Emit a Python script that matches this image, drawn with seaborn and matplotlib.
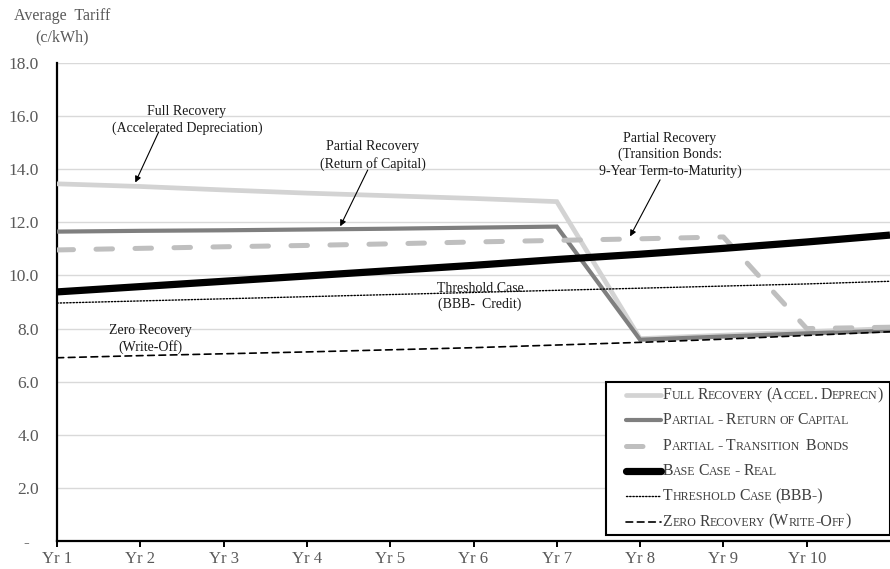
import numpy as np
import pandas as pd
import matplotlib
matplotlib.use("Agg")
import matplotlib.pyplot as plt
import seaborn as sns
from matplotlib.lines import Line2D
from matplotlib.offsetbox import (TextArea, HPacker, VPacker, DrawingArea,
                                  AnchoredOffsetbox)

# ---- data -------------------------------------------------------------
years = list(range(1, 12))
year_labels = ["Yr 1", "Yr 2", "Yr 3", "Yr 4", "Yr 5", "Yr 6", "Yr 7",
               "Yr 8", "Yr 9", "Yr 10"]

full_recovery = [13.45, 13.35, 13.22, 13.10, 13.00, 12.90, 12.78,
                 7.62, 7.75, 7.88, 8.00]
partial_return = [11.65, 11.68, 11.70, 11.73, 11.76, 11.80, 11.84,
                  7.58, 7.70, 7.82, 7.92]
partial_bonds = [10.96, 11.02, 11.08, 11.13, 11.19, 11.26, 11.32,
                 11.38, 11.45, 8.00, 8.05]
base_case = [9.38, 9.58, 9.78, 9.98, 10.18, 10.38, 10.60,
             10.80, 11.02, 11.26, 11.52]
threshold = [8.96, 9.04, 9.12, 9.20, 9.28, 9.36, 9.44,
             9.52, 9.60, 9.68, 9.78]
zero_recovery = [6.90, 6.98, 7.05, 7.12, 7.20, 7.28, 7.38,
                 7.48, 7.60, 7.74, 7.88]

series_names = ["Full Recovery (Accel. Deprecn)",
                "Partial - Return of Capital",
                "Partial - Transition  Bonds",
                "Base Case - Real",
                "Threshold Case (BBB-)",
                "Zero Recovery (Write-Off)"]
series_values = [full_recovery, partial_return, partial_bonds,
                 base_case, threshold, zero_recovery]

y_ticks = [0, 2, 4, 6, 8, 10, 12, 14, 16, 18]
y_tick_labels = ["-  ", "2.0", "4.0", "6.0", "8.0", "10.0", "12.0",
                 "14.0", "16.0", "18.0"]

# ---- styles -----------------------------------------------------------
styles = [
    dict(color="#d3d3d3", lw=3.4, ls="-"),
    dict(color="#7f7f7f", lw=3.0, ls="-"),
    dict(color="#bfbfbf", lw=3.6, ls=(0, (3.3, 4.5))),
    dict(color="#000000", lw=5.2, ls="-"),
    dict(color="#000000", lw=1.0, ls=(0, (1, 1.3))),
    dict(color="#000000", lw=1.2, ls=(0, (4, 2.8))),
]

sns.set_theme(style="white")
plt.rcParams["font.family"] = ["Liberation Serif", "DejaVu Serif"]
SERIF = ["Liberation Serif", "DejaVu Serif"]

fig = plt.figure(figsize=(8.9, 5.69), dpi=100)
ax = fig.add_axes([57 / 890, 28 / 569, 833 / 890, 478 / 569])

df = pd.DataFrame({"year": years * len(series_names),
                   "value": sum(series_values, []),
                   "series": np.repeat(series_names, len(years))})

for name, st in zip(series_names, styles):
    sub = df[df["series"] == name]
    sns.lineplot(data=sub, x="year", y="value", ax=ax, color=st["color"],
                 linewidth=st["lw"], linestyle=st["ls"],
                 dash_capstyle="round", solid_capstyle="butt",
                 solid_joinstyle="miter", legend=False, zorder=3)

# ---- axes -------------------------------------------------------------
ax.set_xlim(1, 11)
ax.set_ylim(0, 18)
ax.set_xticks(range(1, 11))
ax.set_xticklabels(year_labels, fontsize=12, color="#595959")
ax.set_yticks(y_ticks)
ax.set_yticklabels(y_tick_labels, fontsize=12.5, color="#595959")
ax.set_xlabel("")
ax.set_ylabel("")
ax.grid(axis="y", color="#d9d9d9", lw=1.0, zorder=0)
ax.grid(axis="x", visible=False)
for side in ("top", "right"):
    ax.spines[side].set_visible(False)
for side in ("left", "bottom"):
    ax.spines[side].set_color("black")
    ax.spines[side].set_linewidth(1.6)
ax.tick_params(axis="x", direction="out", length=4, width=1.4,
               color="black", pad=3, bottom=True)
ax.tick_params(axis="y", length=0, pad=13)

fig.text(62 / 890, 1 - 27 / 569, "Average  Tariff\n(c/kWh)", ha="center",
         va="center", fontsize=11.5, color="#595959", linespacing=1.45)

# ---- annotations --------------------------------------------------------
ann_kw = dict(ha="center", va="center", fontsize=10, color="#1a1a1a",
              linespacing=1.3)
arrow_kw = dict(arrowstyle="-|>", color="black", lw=0.8,
                mutation_scale=9, shrinkA=0, shrinkB=0)

ax.text(2.56, 15.85, "Full Recovery\n(Accelerated Depreciation)", **ann_kw)
ax.annotate("", xy=(1.94, 13.50), xytext=(2.22, 15.40),
            arrowprops=arrow_kw)

ax.text(4.79, 14.52, "Partial Recovery\n(Return of Capital)", **ann_kw)
ax.annotate("", xy=(4.40, 11.85), xytext=(4.73, 13.97),
            arrowprops=arrow_kw)

ax.text(8.36, 14.55,
        "Partial Recovery\n(Transition Bonds:\n9-Year Term-to-Maturity)",
        **ann_kw)
ax.annotate("", xy=(7.88, 11.47), xytext=(8.24, 13.60),
            arrowprops=arrow_kw)

ax.text(6.08, 9.2, "Threshold Case\n(BBB-  Credit)", **ann_kw)
ax.text(2.12, 7.62, "Zero Recovery\n(Write-Off)", **ann_kw)


# ---- legend with small-capital labels -----------------------------------
def small_caps(label, big=11.3, small=8.6, color="#404040", space=2.2):
    words = []
    gaps = []
    for word in label.split(" "):
        if not word:
            gaps[-1] += space
            continue
        runs = []
        for ch in word:
            size = small if ch.islower() else big
            c = ch.upper()
            if runs and runs[-1][1] == size:
                runs[-1][0] += c
            else:
                runs.append([c, size])
        parts = [TextArea(t, textprops=dict(fontsize=s, color=color,
                                            family=SERIF))
                 for t, s in runs]
        words.append(HPacker(children=parts, align="baseline", pad=0, sep=0))
        gaps.append(space)
    children = []
    for w, g in zip(words, gaps):
        children.append(w)
        children.append(DrawingArea(g, 1, 0, 0))
    return HPacker(children=children[:-1], align="baseline", pad=0, sep=0)


rows = []
for name, st in zip(series_names, styles):
    da = DrawingArea(40, 18.2, 0, 0)
    da.add_artist(Line2D([14.0, 39.5], [9.1, 9.1], color=st["color"],
                         lw=st["lw"], ls=st["ls"], dash_capstyle="round",
                         solid_capstyle="round"))
    rows.append(HPacker(children=[da, small_caps(name)], align="center",
                        pad=0, sep=0.5))
legend_rows = VPacker(children=rows, align="left", pad=0, sep=0)
legend_box = HPacker(children=[legend_rows, DrawingArea(4.5, 1, 0, 0)],
                     align="center", pad=0, sep=0)
anchored = AnchoredOffsetbox(loc="lower right", child=legend_box, pad=0.05,
                             borderpad=0, frameon=True,
                             bbox_to_anchor=(1.0, 6 / 478),
                             bbox_transform=ax.transAxes)
anchored.patch.set_boxstyle("square", pad=0)
anchored.patch.set_edgecolor("black")
anchored.patch.set_linewidth(1.5)
anchored.patch.set_facecolor("white")
anchored.set_zorder(5)
ax.add_artist(anchored)

fig.savefig("out.png", dpi=100, facecolor="white")
